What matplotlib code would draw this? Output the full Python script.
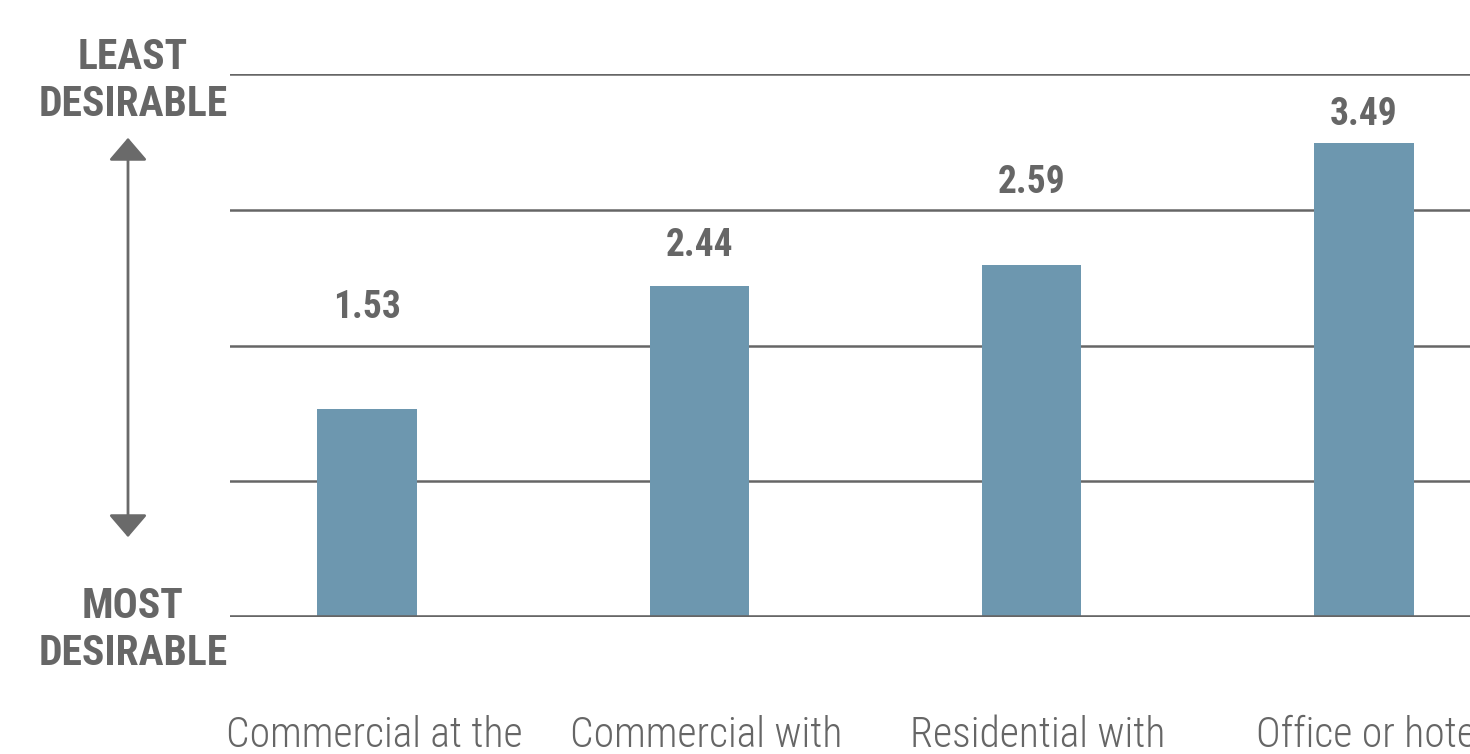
import matplotlib.pyplot as plt
from matplotlib.patches import FancyArrowPatch

categories = ["Commercial at the", "Commercial with", "Residential with", "Office or hotel"]
scores = [1.53, 2.44, 2.59, 3.49]
label_heights = [2.28, 2.74, 3.20, 3.70]  # where the score text sits

BAR = "#6d97af"
INK = "#666666"

plt.rcParams["font.family"] = ["Roboto Condensed", "DejaVu Sans"]

fig = plt.figure(figsize=(14.7, 7.54), dpi=100)
ax = fig.add_axes([230 / 1470, 1 - 617 / 754, 1 - 230 / 1470, (617 - 74) / 754])

x = range(len(categories))
ax.bar(x, scores, width=0.30, color=BAR, zorder=2)
ax.set_xlim(-0.413, 3.32)
ax.set_ylim(0, 4)

for yv in [1, 2, 3, 4]:
    ax.axhline(yv, color=INK, lw=1.8, zorder=1)
ax.axhline(0, color=INK, lw=2.6, zorder=3)

for xi, s, h in zip(x, scores, label_heights):
    ax.text(xi, h, f"{s:.2f}", ha="center", va="center", fontsize=27,
            fontweight="bold", color=INK)

for xi, c in zip(x, categories):
    ax.text(xi + 0.02, -0.87, c, ha="center", va="center", fontsize=30,
            fontweight="light", color=INK, clip_on=False)

for sp in ax.spines.values():
    sp.set_visible(False)
ax.set_xticks([])
ax.set_yticks([])

# scale direction on the left
fig.text(133 / 1470, 1 - 81 / 754, "LEAST\nDESIRABLE", ha="center", va="center",
         fontsize=30, fontweight="bold", color=INK, linespacing=1.2)
fig.text(133 / 1470, 1 - 630 / 754, "MOST\nDESIRABLE", ha="center", va="center",
         fontsize=30, fontweight="bold", color=INK, linespacing=1.2)
fig.patches.append(FancyArrowPatch(
    (128 / 1470, 1 - 540 / 754), (128 / 1470, 1 - 135 / 754),
    transform=fig.transFigure, arrowstyle="<|-|>,head_length=0.7,head_width=0.6",
    mutation_scale=20, color="#6a6a6a", lw=2))

fig.savefig("out.png", dpi=100, facecolor="white")
